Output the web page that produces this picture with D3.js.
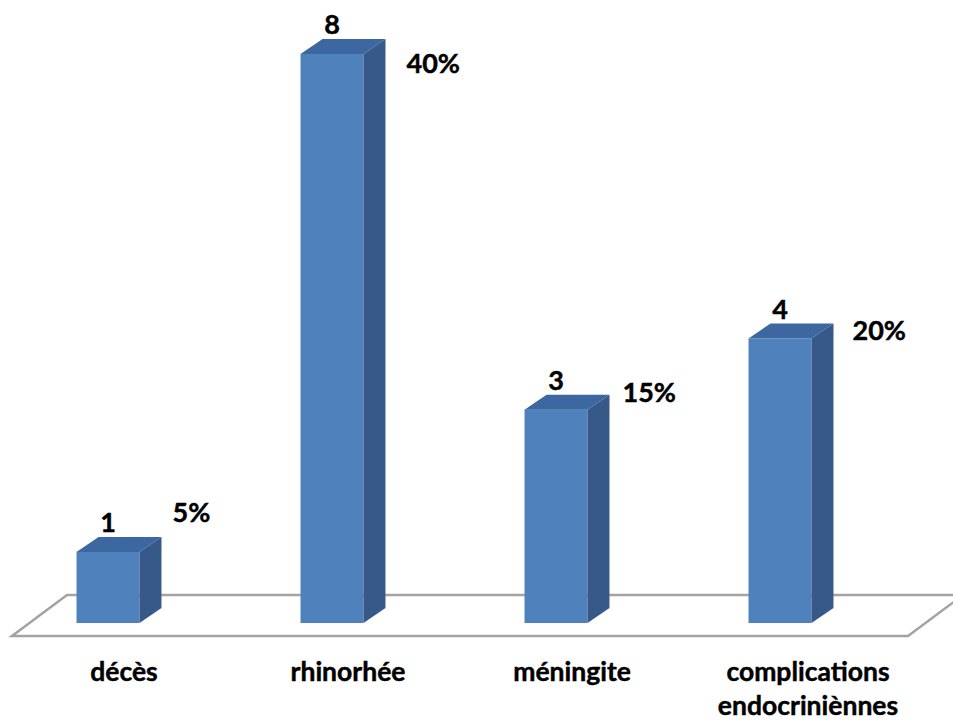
<!DOCTYPE html>
<html>
<head>
<meta charset="utf-8">
<script src="https://cdn.jsdelivr.net/npm/d3@7"></script>
<style>
  html, body { margin: 0; padding: 0; background: #ffffff; }
  svg { display: block; }
  text { font-family: Lato, "Liberation Sans", sans-serif; font-weight: 700; fill: #000; stroke: #000; stroke-width: 0.45px; }
</style>
</head>
<body>
<svg id="chart" width="953" height="720"></svg>
<script>
// Complications: counts and share of patients
const categories = ["décès", "rhinorhée", "méningite", "complications endocriniènnes"];
const counts = [1, 8, 3, 4];
const percents = [5, 40, 15, 20];
const countMax = 8;

const svg = d3.select("#chart");

// Floor plane (front edge and back edge of the 3D base)
const floorFront = 636, floorBack = 595;
const floorLeft = 12, floorRight = 908;
const depthX = 55;          // horizontal shift of the back edge
const base = 623;           // bar bottoms sit slightly behind the front edge

// Categories along the floor
const x = d3.scaleBand()
  .domain(categories)
  .range([floorLeft, floorRight])
  .paddingInner(0.719)
  .paddingOuter(0.3595);

const y = d3.scaleLinear().domain([0, countMax]).range([base, 54]);

const barShift = -16;       // bars drawn a little left of the floor band centre
const bw = x.bandwidth();
const dX = 22, dY = -15;    // bar depth

// floor outline
svg.append("path")
  .attr("d", [
    "M", floorLeft, floorFront,
    "L", floorRight, floorFront,
    "L", floorRight + depthX, floorBack,
    "L", floorLeft + depthX, floorBack,
    "Z"
  ].join(" "))
  .attr("fill", "none")
  .attr("stroke", "#a3a3a3")
  .attr("stroke-width", 2.5)
  .attr("stroke-linejoin", "miter");

const rows = categories.map((c, i) => ({ c, v: counts[i], p: percents[i], i }));

const bars = svg.append("g").selectAll("g").data(rows).join("g");

// front face
bars.append("rect")
  .attr("x", d => x(d.c) + barShift)
  .attr("y", d => y(d.v))
  .attr("width", bw)
  .attr("height", d => y(0) - y(d.v))
  .attr("fill", "#4f81bd");

// right side face
bars.append("path")
  .attr("d", d => {
    const x1 = x(d.c) + barShift + bw, t = y(d.v), b = y(0);
    return `M${x1},${t} L${x1 + dX},${t + dY} L${x1 + dX},${b + dY} L${x1},${b} Z`;
  })
  .attr("fill", "#36598a");

// top face
bars.append("path")
  .attr("d", d => {
    const x0 = x(d.c) + barShift, t = y(d.v);
    return `M${x0},${t} L${x0 + dX},${t + dY} L${x0 + bw + dX},${t + dY} L${x0 + bw},${t} Z`;
  })
  .attr("fill", "#3d67a0");

// count labels above each bar
svg.append("g").selectAll("text").data(rows).join("text")
  .attr("x", d => x(d.c) + barShift + bw / 2)
  .attr("y", d => y(d.v) - 20)
  .attr("text-anchor", "middle")
  .attr("font-size", 27)
  .text(d => d.v);

// percentage labels, placed to the right of each bar
const pctNudge = [[33, -30], [43, 19], [35, -8], [41, 1]];
svg.append("g").selectAll("text").data(rows).join("text")
  .attr("x", d => x(d.c) + barShift + bw + pctNudge[d.i][0])
  .attr("y", d => y(d.v) + pctNudge[d.i][1])
  .attr("text-anchor", "start")
  .attr("font-size", 27)
  .text(d => d.p + "%");

// category labels below the floor (wrapped on spaces)
const labelNudge = [0, 0, 0, 12];
const catG = svg.append("g").selectAll("text").data(rows).join("text")
  .attr("text-anchor", "middle")
  .attr("font-size", 26.5)
  .attr("x", d => x(d.c) + bw / 2 + labelNudge[d.i])
  .attr("y", 681);
catG.each(function (d) {
  const words = d.c.split(" ");
  d3.select(this).selectAll("tspan").data(words).join("tspan")
    .attr("x", x(d.c) + bw / 2 + labelNudge[d.i])
    .attr("dy", (w, k) => k === 0 ? 0 : 34)
    .text(w => w);
});
</script>
</body>
</html>
